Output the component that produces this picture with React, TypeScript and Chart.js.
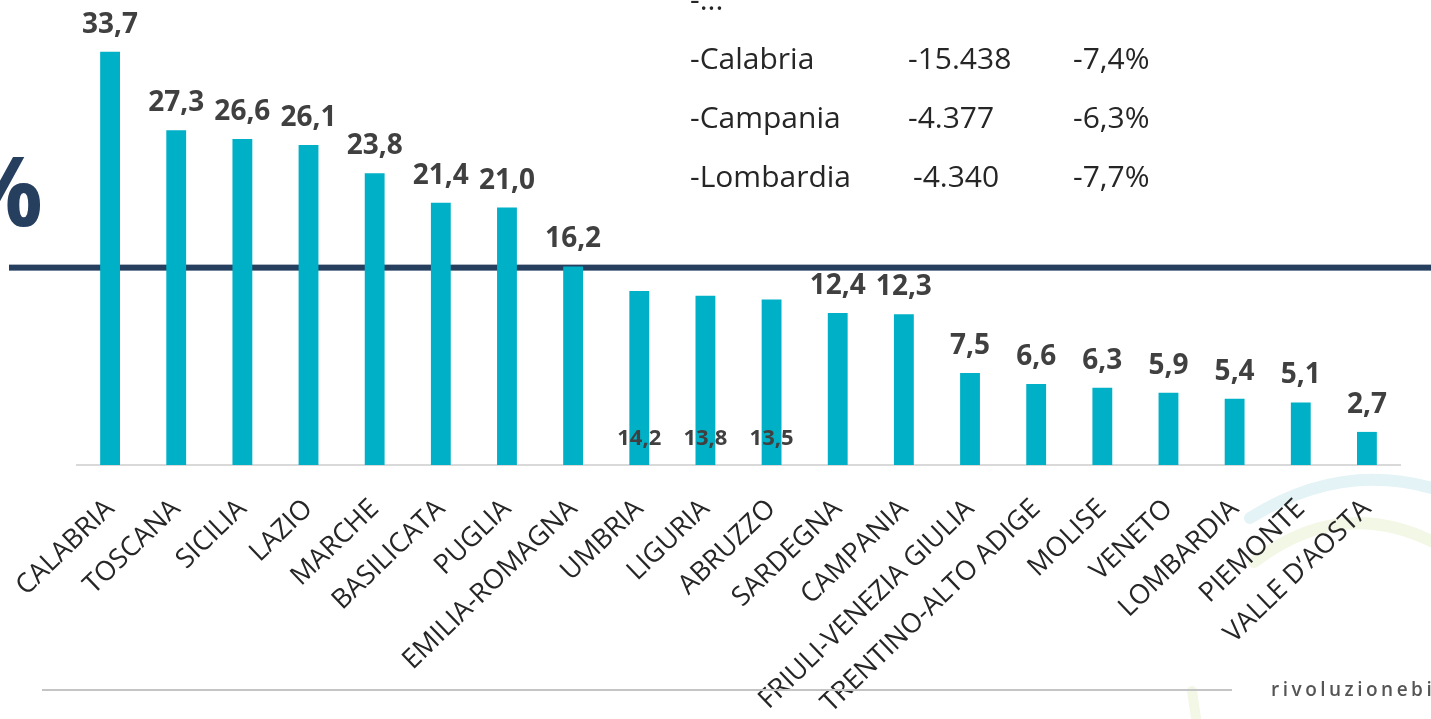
import React, { useEffect, useRef } from "react";
import { Chart, registerables } from "chart.js";

Chart.register(...registerables);

const regions = [
  "CALABRIA",
  "TOSCANA",
  "SICILIA",
  "LAZIO",
  "MARCHE",
  "BASILICATA",
  "PUGLIA",
  "EMILIA-ROMAGNA",
  "UMBRIA",
  "LIGURIA",
  "ABRUZZO",
  "SARDEGNA",
  "CAMPANIA",
  "FRIULI-VENEZIA GIULIA",
  "TRENTINO-ALTO ADIGE",
  "MOLISE",
  "VENETO",
  "LOMBARDIA",
  "PIEMONTE",
  "VALLE D’AOSTA",
];

const values = [
  33.7, 27.3, 26.6, 26.1, 23.8, 21.4, 21.0, 16.2, 14.2, 13.8, 13.5, 12.4, 12.3,
  7.5, 6.6, 6.3, 5.9, 5.4, 5.1, 2.7,
];

// regions whose value label sits at the foot of the bar in the original
const baseLabelRegions = ["UMBRIA", "LIGURIA", "ABRUZZO"];

// horizontal reference (average) line value
const referenceLine = 16.1;

const yMax = 37.93;

const tableNames = ["-...", "-Calabria", "-Campania", "-Lombardia"];
const tableAbs = ["", "-15.438", "-4.377", "-4.340"];
const tablePct = ["", "-7,4%", "-6,3%", "-7,7%"];

const W = 1431;
const H = 719;
const AXIS_Y = 465;

const fmt = (v: number) => v.toFixed(1).replace(".", ",");

const overlayPlugin = {
  id: "overlay",
  beforeDraw(chart: any) {
    const ctx = chart.ctx;
    ctx.save();
    ctx.lineCap = "round";
    ctx.lineWidth = 12;
    ctx.strokeStyle = "#e4f3f6";
    ctx.beginPath();
    ctx.moveTo(1250, 518);
    ctx.quadraticCurveTo(1345, 458, 1445, 492);
    ctx.stroke();
    ctx.strokeStyle = "#f3f7e6";
    ctx.beginPath();
    ctx.moveTo(1254, 562);
    ctx.quadraticCurveTo(1345, 492, 1445, 548);
    ctx.stroke();
    ctx.lineWidth = 10;
    ctx.beginPath();
    ctx.moveTo(1192, 691);
    ctx.lineTo(1197, 725);
    ctx.stroke();
    ctx.restore();
  },
  beforeDatasetsDraw(chart: any) {
    const ctx = chart.ctx;
    const y = chart.scales.y.getPixelForValue(referenceLine);
    ctx.save();
    ctx.fillStyle = "#263f5f";
    ctx.fillRect(9, y - 3, W - 9, 6);
    ctx.restore();
  },
  afterDatasetsDraw(chart: any) {
    const ctx = chart.ctx;
    const meta = chart.getDatasetMeta(0);
    const bottom = chart.chartArea.bottom;
    ctx.save();
    ctx.fillStyle = "#404040";
    ctx.textAlign = "center";
    ctx.textBaseline = "alphabetic";
    meta.data.forEach((bar: any, i: number) => {
      const atBase = baseLabelRegions.includes(regions[i]);
      if (atBase) {
        ctx.font = "bold 22px 'Open Sans'";
        ctx.fillText(fmt(values[i]), bar.x, bottom - 20);
      } else {
        ctx.font = "bold 28px 'Open Sans'";
        ctx.fillText(fmt(values[i]), bar.x, bar.y - 19);
      }
    });
    ctx.restore();
  },
};

export default function App() {
  const ref = useRef<HTMLCanvasElement | null>(null);

  useEffect(() => {
    if (!ref.current) return;
    const chart = new Chart(ref.current, {
      type: "bar",
      data: {
        labels: regions,
        datasets: [
          {
            data: values,
            backgroundColor: "#00b0c7",
            borderWidth: 0,
            barPercentage: 0.3,
            categoryPercentage: 1,
          },
        ],
      },
      options: {
        responsive: false,
        animation: false,
        layout: { padding: { left: 77, right: 31, top: 0, bottom: 0 } },
        plugins: {
          legend: { display: false },
          tooltip: { enabled: false },
          title: { display: false },
        },
        scales: {
          x: {
            grid: { display: false, drawTicks: false },
            border: { display: true, color: "#d9d9d9", width: 2 },
            ticks: {
              autoSkip: false,
              maxRotation: 44,
              minRotation: 44,
              padding: 28,
              color: "#262626",
              font: { family: "'Open Sans'", size: 27 },
            },
            afterFit: (scale: any) => {
              scale.height = H - AXIS_Y;
              scale.paddingLeft = 0;
              scale.paddingRight = 0;
            },
          },
          y: { display: false, min: 0, max: yMax },
        },
      },
      plugins: [overlayPlugin],
    });
    return () => chart.destroy();
  }, []);

  const rowTop = (i: number) => -16 + i * 59;
  const textStyle: React.CSSProperties = {
    position: "absolute",
    fontFamily: "'Open Sans', sans-serif",
    fontSize: 30,
    lineHeight: "30px",
    color: "#262626",
    whiteSpace: "pre",
  };

  return (
    <div
      style={{
        position: "fixed",
        left: 0,
        top: 0,
        width: W,
        height: H,
        overflow: "hidden",
        background: "#ffffff",
      }}
    >
      <canvas
        ref={ref}
        width={W}
        height={H}
        style={{ position: "absolute", left: 0, top: 0, width: W, height: H }}
      />
      {tableNames.map((n, i) => (
        <React.Fragment key={n}>
          <div style={{ ...textStyle, left: 690, top: rowTop(i) }}>{n}</div>
          <div
            style={{
              ...textStyle,
              left: tableAbs[i] === "-4.340" ? 913 : 908,
              top: rowTop(i),
            }}
          >
            {tableAbs[i]}
          </div>
          <div style={{ ...textStyle, left: 1073, top: rowTop(i) }}>
            {tablePct[i]}
          </div>
        </React.Fragment>
      ))}
      <div
        style={{
          position: "absolute",
          right: W - 43,
          top: 129,
          fontFamily: "'Open Sans', sans-serif",
          fontWeight: 700,
          fontSize: 96,
          lineHeight: "120px",
          color: "#263f5f",
        }}
      >
        %
      </div>
      <div
        style={{
          position: "absolute",
          left: 42,
          top: 689,
          width: 1190,
          height: 2,
          background: "#c4c4c4",
        }}
      />
      <div
        style={{
          position: "absolute",
          left: 1271,
          top: 677,
          fontFamily: "'Open Sans', sans-serif",
          fontWeight: 600,
          fontSize: 19,
          lineHeight: "24px",
          letterSpacing: "3.5px",
          color: "#555555",
          whiteSpace: "pre",
        }}
      >
        rivoluzionebio
      </div>
    </div>
  );
}
